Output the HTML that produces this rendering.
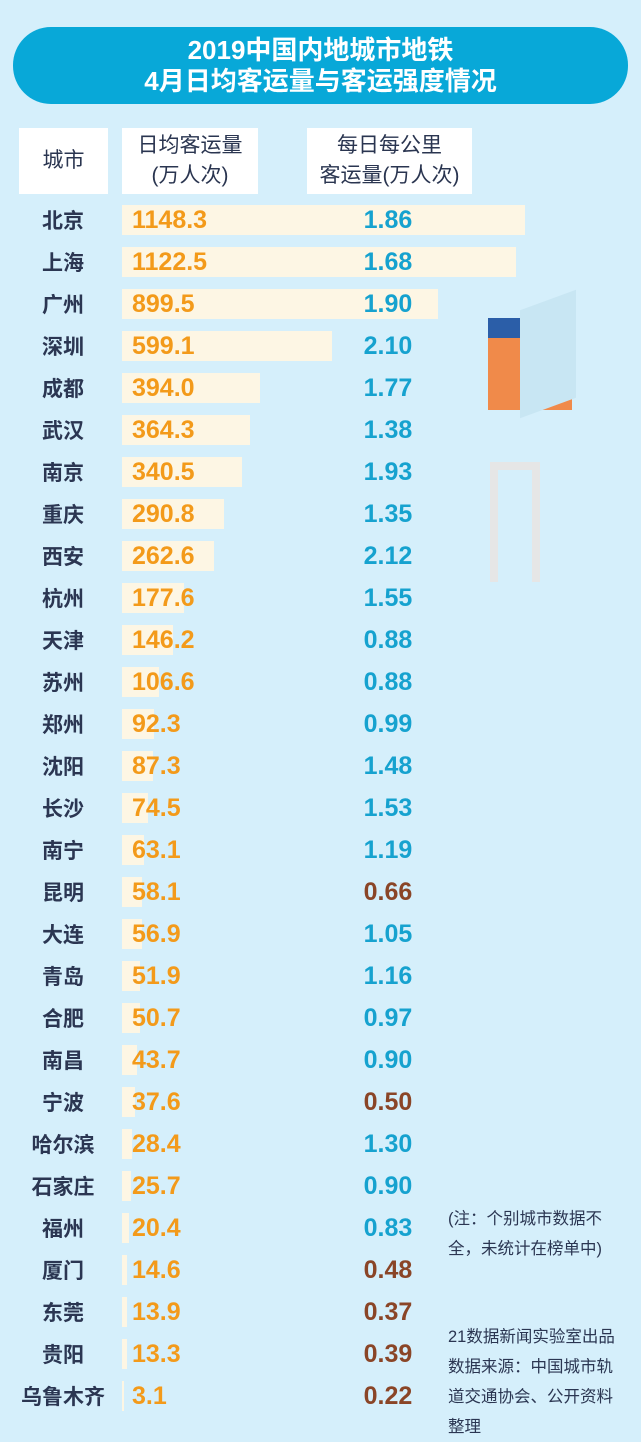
<!DOCTYPE html>
<html><head><meta charset="utf-8"><style>
*{margin:0;padding:0;box-sizing:border-box}
body{width:641px;height:1433px;background:#d5effb;font-family:"Liberation Sans","Noto Sans CJK SC",sans-serif;position:relative;overflow:hidden}
.pill{position:absolute;left:13px;top:27px;width:615px;height:77px;background:#08a8d8;border-radius:38px;color:#fff;text-align:center;font-weight:bold;font-size:26px;line-height:31px;padding-top:8px}
.hb{position:absolute;top:128px;height:66px;background:#fff;color:#2a3550;font-size:21px;text-align:center;line-height:30px;display:flex;flex-direction:column;justify-content:center}
.row{position:absolute;left:0;width:641px;height:42px}
.city{position:absolute;left:0;width:126px;text-align:center;font-size:21px;font-weight:bold;color:#2b3652;top:6px}
.bar{position:absolute;left:122px;top:6px;height:30px;background:#fdf6e4}
.v1{position:absolute;left:132px;top:6px;font-size:25px;font-weight:bold;color:#f39a1a;line-height:30px}
.v2{position:absolute;left:330px;width:116px;text-align:center;top:6px;font-size:25px;font-weight:bold;line-height:30px}
.b{color:#16a2cf}.r{color:#8a4527}
.note{position:absolute;left:448px;font-size:16.5px;color:#2b3652;line-height:30px;width:180px}
</style></head><body>
<div class="pill">2019中国内地城市地铁<br>4月日均客运量与客运强度情况</div>
<div class="hb" style="left:19px;width:89px">城市</div>
<div class="hb" style="left:122px;width:136px"><div>日均客运量</div><div>(万人次)</div></div>
<div class="hb" style="left:307px;width:165px"><div>每日每公里</div><div>客运量(万人次)</div></div>
<div style="position:absolute;left:488px;top:318px;width:84px;height:20px;background:#2b5ea8"></div>
<div style="position:absolute;left:488px;top:338px;width:84px;height:72px;background:#f08a4a"></div>
<div style="position:absolute;left:520px;top:300px;width:56px;height:108px;background:#c8e6f3;transform:skewY(-20deg)"></div>
<div style="position:absolute;left:490px;top:462px;width:50px;height:120px;border:8px solid #e6e6e6;border-bottom:none"></div>
<div id="rows"></div>
<div class="note" style="top:1204px">(注：个别城市数据不<br>全，未统计在榜单中)</div>
<div class="note" style="top:1322px">21数据新闻实验室出品<br>数据来源：中国城市轨<br>道交通协会、公开资料<br>整理</div>
<script>
var d=[["北京",1148.3,"1.86"],["上海",1122.5,"1.68"],["广州",899.5,"1.90"],["深圳",599.1,"2.10"],["成都",394.0,"1.77"],["武汉",364.3,"1.38"],["南京",340.5,"1.93"],["重庆",290.8,"1.35"],["西安",262.6,"2.12"],["杭州",177.6,"1.55"],["天津",146.2,"0.88"],["苏州",106.6,"0.88"],["郑州",92.3,"0.99"],["沈阳",87.3,"1.48"],["长沙",74.5,"1.53"],["南宁",63.1,"1.19"],["昆明",58.1,"0.66"],["大连",56.9,"1.05"],["青岛",51.9,"1.16"],["合肥",50.7,"0.97"],["南昌",43.7,"0.90"],["宁波",37.6,"0.50"],["哈尔滨",28.4,"1.30"],["石家庄",25.7,"0.90"],["福州",20.4,"0.83"],["厦门",14.6,"0.48"],["东莞",13.9,"0.37"],["贵阳",13.3,"0.39"],["乌鲁木齐",3.1,"0.22"]];
var h="";
d.forEach(function(e,i){var w=Math.max(2,e[1]*0.351);var c=parseFloat(e[2])<0.7?"r":"b";
h+='<div class="row" style="top:'+(199+i*42)+'px"><div class="city">'+e[0]+'</div><div class="bar" style="width:'+w.toFixed(1)+'px"></div><div class="v1">'+e[1].toFixed(1)+'</div><div class="v2 '+c+'">'+e[2]+'</div></div>';});
document.getElementById("rows").innerHTML=h;
</script>
</body></html>
